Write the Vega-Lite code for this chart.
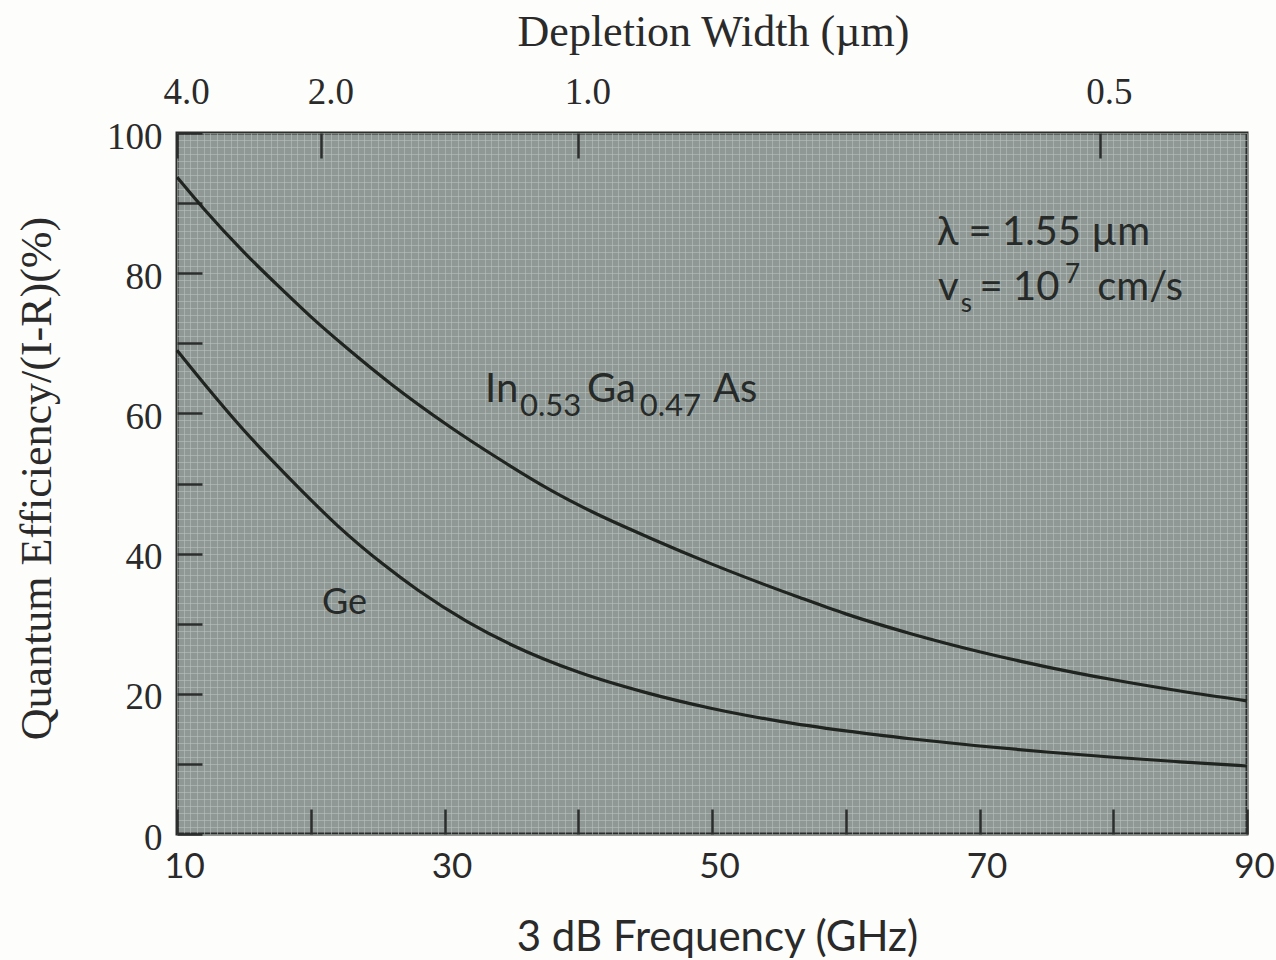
{
  "$schema": "https://vega.github.io/schema/vega-lite/v6.json",
  "width": 1070,
  "height": 701,
  "autosize": {"type": "none"},
  "padding": {"left": 177, "top": 133, "right": 29, "bottom": 126},
  "background": "#fdfdfb",
  "config": {
    "view": {"fill": "#8f9894", "stroke": "#2b2e2c", "strokeWidth": 3},
    "axis": {"domain": false, "grid": false, "labelColor": "#2a2a2a", "titleColor": "#2a2a2a", "tickColor": "#2b2e2c", "tickWidth": 2.5, "titleFontWeight": "normal"},
    "text": {"color": "#262a28"}
  },
  "datasets": {
    "curves": [
      {"material": "InGaAs", "f": 10, "qe": 93.7},
      {"material": "InGaAs", "f": 12, "qe": 89.2},
      {"material": "InGaAs", "f": 15, "qe": 83.0},
      {"material": "InGaAs", "f": 18, "qe": 77.4},
      {"material": "InGaAs", "f": 20, "qe": 73.8},
      {"material": "InGaAs", "f": 22.9, "qe": 69.0},
      {"material": "InGaAs", "f": 26, "qe": 64.2},
      {"material": "InGaAs", "f": 30.4, "qe": 58.1},
      {"material": "InGaAs", "f": 34, "qe": 53.6},
      {"material": "InGaAs", "f": 37.9, "qe": 49.1},
      {"material": "InGaAs", "f": 41, "qe": 46.0},
      {"material": "InGaAs", "f": 45.4, "qe": 42.2},
      {"material": "InGaAs", "f": 50, "qe": 38.5},
      {"material": "InGaAs", "f": 56.6, "qe": 33.7},
      {"material": "InGaAs", "f": 60, "qe": 31.4},
      {"material": "InGaAs", "f": 65, "qe": 28.5},
      {"material": "InGaAs", "f": 70, "qe": 26.0},
      {"material": "InGaAs", "f": 75, "qe": 23.85},
      {"material": "InGaAs", "f": 80, "qe": 22.0},
      {"material": "InGaAs", "f": 85, "qe": 20.4},
      {"material": "InGaAs", "f": 90, "qe": 19.0},
      {"material": "Ge", "f": 10, "qe": 69.0},
      {"material": "Ge", "f": 12, "qe": 64.3},
      {"material": "Ge", "f": 15, "qe": 57.6},
      {"material": "Ge", "f": 17, "qe": 53.5},
      {"material": "Ge", "f": 19.2, "qe": 49.2},
      {"material": "Ge", "f": 22, "qe": 44.0},
      {"material": "Ge", "f": 25.4, "qe": 38.5},
      {"material": "Ge", "f": 28, "qe": 34.8},
      {"material": "Ge", "f": 31.7, "qe": 30.3},
      {"material": "Ge", "f": 35, "qe": 27.0},
      {"material": "Ge", "f": 40, "qe": 23.1},
      {"material": "Ge", "f": 45, "qe": 20.2},
      {"material": "Ge", "f": 50, "qe": 17.9},
      {"material": "Ge", "f": 55, "qe": 16.1},
      {"material": "Ge", "f": 60, "qe": 14.7},
      {"material": "Ge", "f": 65, "qe": 13.55},
      {"material": "Ge", "f": 70, "qe": 12.55},
      {"material": "Ge", "f": 75, "qe": 11.7},
      {"material": "Ge", "f": 80, "qe": 10.95},
      {"material": "Ge", "f": 85, "qe": 10.3},
      {"material": "Ge", "f": 90, "qe": 9.7}
    ],
    "labels": [
      {"t": "In", "f": 33.03, "qe": 61.6},
      {"t": "Ga", "f": 40.65, "qe": 61.6},
      {"t": "As", "f": 50.07, "qe": 61.6}
    ],
    "gelabel": [
      {"t": "Ge", "f": 20.84, "qe": 31.4}
    ],
    "sublabels": [
      {"t": "0.53", "f": 35.65, "qe": 59.6},
      {"t": "0.47", "f": 44.6, "qe": 59.6}
    ],
    "params": [
      {"t": "λ = 1.55 µm", "f": 66.8, "qe": 84.0},
      {"t": "v", "f": 66.9, "qe": 76.2},
      {"t": "= 10", "f": 70.0, "qe": 76.2},
      {"t": "cm/s", "f": 78.8, "qe": 76.2}
    ],
    "smallparams": [
      {"t": "s", "f": 68.6, "qe": 74.5},
      {"t": "7", "f": 76.4, "qe": 78.6}
    ]
  },
  "layer": [
    {
      "data": {"name": "curves"},
      "mark": {"type": "line", "opacity": 0},
      "encoding": {
        "x": {"field": "f", "type": "quantitative", "scale": {"domain": [10, 90], "nice": false},
          "axis": {"orient": "bottom", "grid": true, "tickCount": 160, "labels": false, "ticks": false, "title": null, "gridColor": "#bcc4bf", "gridWidth": 1, "gridOpacity": 0.55}},
        "y": {"field": "qe", "type": "quantitative", "scale": {"domain": [0, 100], "nice": false},
          "axis": {"orient": "left", "grid": true, "tickCount": 100, "labels": false, "ticks": false, "title": null, "gridColor": "#bcc4bf", "gridWidth": 1, "gridOpacity": 0.55}},
        "detail": {"field": "material"}
      }
    },
    {
      "layer": [
        {
          "data": {"name": "curves"},
          "mark": {"type": "line", "interpolate": "monotone", "stroke": "#1f2421", "strokeWidth": 3.2},
          "encoding": {
            "x": {"field": "f", "type": "quantitative", "scale": {"domain": [10, 90], "nice": false},
              "axis": {"orient": "bottom", "values": [10, 20, 30, 40, 50, 60, 70, 80, 90], "labelExpr": "datum.value % 20 == 10 ? datum.label : ''",
                "tickSize": -25, "labelPadding": 40, "labelOffset": 7, "labelFont": "Lato", "labelFontSize": 35, "labelFlush": false,
                "title": "3 dB Frequency (GHz)", "titleFont": "Lato", "titleFontSize": 42, "titleX": 540, "titleY": 103, "titleBaseline": "middle", "titleAlign": "center"}},
            "y": {"field": "qe", "type": "quantitative", "scale": {"domain": [0, 100], "nice": false},
              "axis": {"orient": "left", "values": [0, 10, 20, 30, 40, 50, 60, 70, 80, 90, 100], "labelExpr": "datum.value % 20 == 0 ? datum.label : ''",
                "tickSize": -25, "labelPadding": 40, "labelOffset": 4, "labelFont": "Liberation Serif", "labelFontSize": 37, "labelFlush": false,
                "title": "Quantum Efficiency/(I-R)(%)", "titleFont": "Liberation Serif", "titleFontSize": 44, "titleAngle": -90, "titleX": -140, "titleY": 345, "titleBaseline": "middle", "titleAlign": "center"}},
            "detail": {"field": "material"}
          }
        },
        {
          "data": {"name": "labels"},
          "mark": {"type": "text", "font": "Lato", "fontSize": 40, "align": "left", "baseline": "alphabetic"},
          "encoding": {
            "x": {"field": "f", "type": "quantitative"},
            "y": {"field": "qe", "type": "quantitative"},
            "text": {"field": "t"}
          }
        },
        {
          "data": {"name": "gelabel"},
          "mark": {"type": "text", "font": "Lato", "fontSize": 36, "align": "left", "baseline": "alphabetic"},
          "encoding": {
            "x": {"field": "f", "type": "quantitative"},
            "y": {"field": "qe", "type": "quantitative"},
            "text": {"field": "t"}
          }
        },
        {
          "data": {"name": "sublabels"},
          "mark": {"type": "text", "font": "Lato", "fontSize": 31, "align": "left", "baseline": "alphabetic"},
          "encoding": {
            "x": {"field": "f", "type": "quantitative"},
            "y": {"field": "qe", "type": "quantitative"},
            "text": {"field": "t"}
          }
        }
      ]
    },
    {
      "layer": [
        {
          "data": {"name": "params"},
          "mark": {"type": "text", "font": "Lato", "fontSize": 40, "align": "left", "baseline": "alphabetic"},
          "encoding": {
            "x": {"field": "f", "type": "quantitative", "scale": {"domain": [10, 90], "nice": false},
              "axis": {"orient": "top", "values": [10, 20.8, 40, 79],
                "labelExpr": "datum.value == 10 ? '4.0' : datum.value == 20.8 ? '2.0' : datum.value == 40 ? '1.0' : '0.5'",
                "tickSize": -25, "labelPadding": 47, "labelOffset": 9, "labelFont": "Liberation Serif", "labelFontSize": 37, "labelFlush": false,
                "title": "Depletion Width (µm)", "titleFont": "Liberation Serif", "titleFontSize": 44, "titleX": 536, "titleY": -101, "titleBaseline": "middle", "titleAlign": "center"}},
            "y": {"field": "qe", "type": "quantitative", "scale": {"domain": [0, 100], "nice": false}, "axis": null},
            "text": {"field": "t"}
          }
        },
        {
          "data": {"name": "smallparams"},
          "mark": {"type": "text", "font": "Lato", "fontSize": 26, "align": "left", "baseline": "alphabetic"},
          "encoding": {
            "x": {"field": "f", "type": "quantitative"},
            "y": {"field": "qe", "type": "quantitative"},
            "text": {"field": "t"}
          }
        }
      ]
    }
  ],
  "resolve": {"scale": {"x": "independent", "y": "independent"}, "axis": {"x": "independent", "y": "independent"}}
}
